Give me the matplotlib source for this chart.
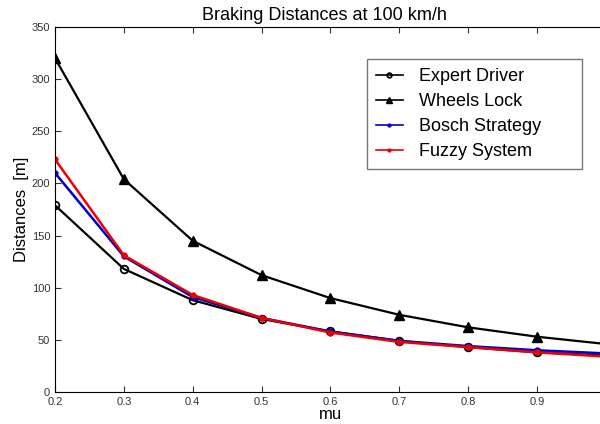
import matplotlib
matplotlib.use('Agg')
import matplotlib.pyplot as plt

plt.rcParams['font.family'] = ['Liberation Sans', 'DejaVu Sans']

mu = [0.2, 0.3, 0.4, 0.5, 0.6, 0.7, 0.8, 0.9, 1.0]
expert = [179, 118, 88, 70, 58, 49, 43, 38, 35]
wheels_lock = [320, 204, 145, 112, 90, 74, 62, 53, 46]
bosch = [210, 130, 91, 71, 58, 49, 44, 40, 37]
fuzzy = [223, 131, 93, 71, 57, 48, 43, 38, 34]

fig = plt.figure(figsize=(6.0, 4.24), dpi=100)
ax = fig.add_axes([0.0917, 0.0755, 0.918, 0.861])

ax.plot(mu, expert, color='black', lw=1.6, marker='o', ms=5.5, mfc='none', mew=1.3, label='Expert Driver')
ax.plot(mu, wheels_lock, color='black', lw=1.6, marker='^', ms=6.5, mfc='black', label='Wheels Lock')
ax.plot(mu, bosch, color='#0000cc', lw=1.8, marker='o', ms=3.5, label='Bosch Strategy')
ax.plot(mu, fuzzy, color='#ee0000', lw=1.8, marker='o', ms=3.5, label='Fuzzy System')

ax.set_xlim(0.2, 1.0)
ax.set_ylim(0, 350)
ax.set_xticks([0.2, 0.3, 0.4, 0.5, 0.6, 0.7, 0.8, 0.9])
ax.set_yticks(range(0, 351, 50))
ax.tick_params(direction='in', labelsize=8, colors='#333333', top=True, length=4)

ax.set_title('Braking Distances at 100 km/h', fontsize=13, pad=5, x=0.49)
ax.set_ylabel('Distances  [m]', fontsize=12, labelpad=2)
ax.set_xlabel('mu', fontsize=12, labelpad=0)

# legend box stretched to the reference width
leg = ax.legend(loc='upper left', bbox_to_anchor=(0.566, 0.912, 0.39, 0), mode='expand',
                fontsize=13, fancybox=False, edgecolor='#555555', handlelength=1.5,
                borderpad=0.5, handletextpad=0.9, labelspacing=0.45, markerscale=0.6,
                borderaxespad=0)
leg.get_frame().set_linewidth(1.0)
for line in leg.get_lines():
    line.set_linewidth(1.2)

fig.savefig('out.png', dpi=100)
